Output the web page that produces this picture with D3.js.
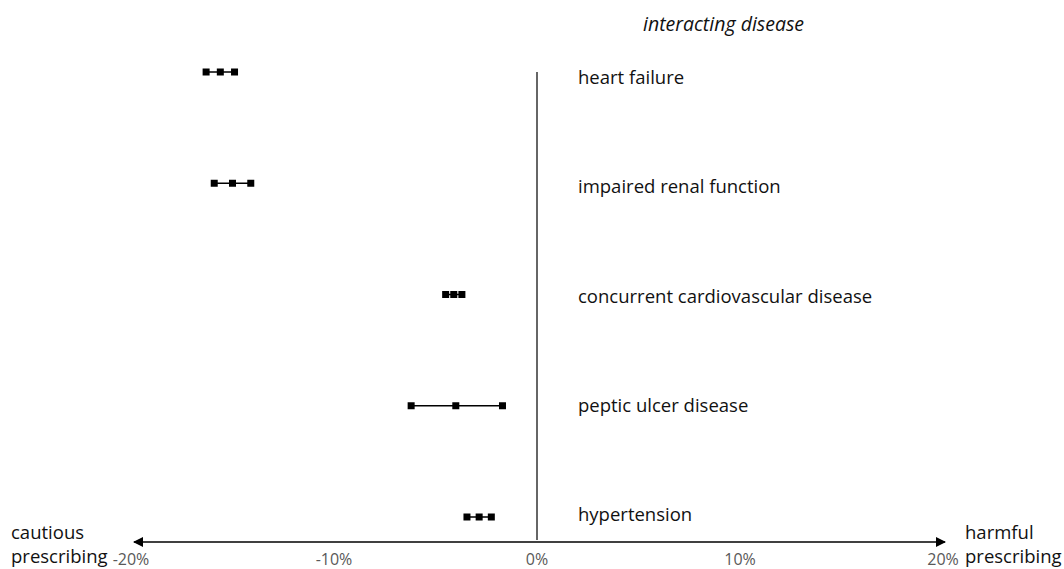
<!DOCTYPE html>
<meta charset="utf-8">
<script src="https://d3js.org/d3.v7.min.js"></script>
<style>
  body { margin: 0; background: #fff; }
  svg text { font-family: "Open Sans", sans-serif; fill: #111; }
</style>
<div id="my_dataviz"></div>
<script>

// interacting diseases, top to bottom
var diseases = ["heart failure", "impaired renal function", "concurrent cardiovascular disease",
                "peptic ulcer disease", "hypertension"];
// lower bound, estimate, upper bound (% difference)
var lower    = [-16.3, -15.9, -4.5, -6.2, -3.45];
var estimate = [-15.6, -15.0, -4.1, -4.0, -2.85];
var upper    = [-14.9, -14.1, -3.7, -1.7, -2.25];
var tickValues = [-20, -10, 0, 10, 20];

var width = 1064, height = 569;

var svg = d3.select("#my_dataviz")
  .append("svg")
    .attr("width", width)
    .attr("height", height);

var x = d3.scaleLinear()
  .domain([-20, 20])
  .range([131, 943]);

var y = d3.scalePoint()
  .domain(diseases)
  .range([72, 517]);

// labels sit a little apart from the markers
var yLabel = d3.scalePoint()
  .domain(diseases)
  .range([78, 515]);

// vertical zero line
svg.append("line")
  .attr("x1", x(0)).attr("x2", x(0))
  .attr("y1", 72).attr("y2", 540)
  .attr("stroke", "#333")
  .attr("stroke-width", 1.5);

// horizontal axis with arrows
var defs = svg.append("defs");
defs.append("marker")
  .attr("id", "arrow")
  .attr("viewBox", "0 0 10 10")
  .attr("refX", 9).attr("refY", 5)
  .attr("markerWidth", 10).attr("markerHeight", 10)
  .attr("markerUnits", "userSpaceOnUse")
  .attr("orient", "auto-start-reverse")
  .append("path")
    .attr("d", "M0,0 L10,5 L0,10 z")
    .attr("fill", "#000");

svg.append("line")
  .attr("x1", x(-20) + 3).attr("x2", x(20) + 2)
  .attr("y1", 542).attr("y2", 542)
  .attr("stroke", "#000")
  .attr("stroke-width", 1.5)
  .attr("marker-start", "url(#arrow)")
  .attr("marker-end", "url(#arrow)");

// tick labels
svg.selectAll(".tick-label")
  .data(tickValues)
  .enter()
  .append("text")
    .attr("class", "tick-label")
    .attr("x", function(d) { return x(d); })
    .attr("y", 565)
    .attr("text-anchor", "middle")
    .style("font-size", "16px")
    .style("fill", "#595959")
    .text(function(d) { return d + "%"; });

// error bars
var rows = diseases.map(function(d, i) {
  return {name: d, lo: lower[i], est: estimate[i], hi: upper[i]};
});

svg.selectAll(".ci")
  .data(rows)
  .enter()
  .append("line")
    .attr("x1", function(d) { return x(d.lo); })
    .attr("x2", function(d) { return x(d.hi); })
    .attr("y1", function(d) { return y(d.name); })
    .attr("y2", function(d) { return y(d.name); })
    .attr("stroke", "#000")
    .attr("stroke-width", 1.5);

var pts = [];
rows.forEach(function(r) {
  [r.lo, r.est, r.hi].forEach(function(v) { pts.push({name: r.name, v: v}); });
});

svg.selectAll(".pt")
  .data(pts)
  .enter()
  .append("rect")
    .attr("x", function(d) { return x(d.v) - 3.5; })
    .attr("y", function(d) { return y(d.name) - 3.5; })
    .attr("width", 7)
    .attr("height", 7)
    .attr("fill", "#000");

// disease labels
svg.selectAll(".dlabel")
  .data(diseases)
  .enter()
  .append("text")
    .attr("x", 578)
    .attr("y", function(d) { return yLabel(d) + 6; })
    .style("font-size", "18.5px")
    .text(function(d) { return d; });

svg.append("text")
  .attr("x", 643)
  .attr("y", 31)
  .style("font-size", "19.5px")
  .style("font-style", "italic")
  .text("interacting disease");

svg.append("text").attr("x", 11).attr("y", 539).style("font-size", "18.5px").text("cautious");
svg.append("text").attr("x", 11).attr("y", 563).style("font-size", "18.5px").text("prescribing");
svg.append("text").attr("x", 965).attr("y", 539).style("font-size", "18.5px").text("harmful");
svg.append("text").attr("x", 965).attr("y", 563).style("font-size", "18.5px").text("prescribing");

</script>
